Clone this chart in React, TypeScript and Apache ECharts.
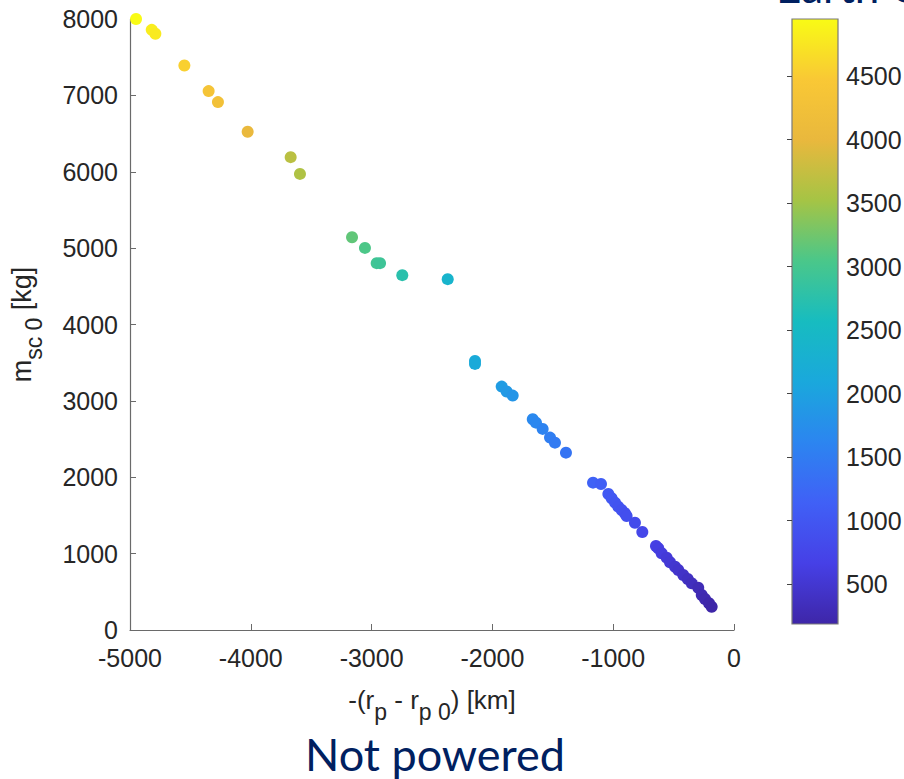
import React, { useEffect, useRef } from "react";
import * as echarts from "echarts";

// -(r_p - r_p0) [km]
const deltaRp = [
  -4950, -4820, -4790, -4550, -4349, -4272, -4026, -3670, -3593,
  -3162, -3055, -2958, -2930, -2746, -2370,
  -2144, -2144, -1923, -1882, -1832, -1666, -1639, -1584, -1523, -1482, -1391,
  -1167, -1101, -1040, -1013, -985, -958, -930, -903, -889, -820, -759,
  -646, -627, -599, -557, -530, -488, -461, -420, -383, -350, -296,
  -267, -240, -207, -185,
];
// m_sc0 [kg]
const massSc0 = [
  8000, 7858, 7806, 7391, 7056, 6912, 6523, 6191, 5972,
  5143, 5003, 4803, 4803, 4646, 4594,
  3523, 3484, 3187, 3122, 3069, 2760, 2715, 2633, 2519, 2453, 2322,
  1929, 1912, 1781, 1725, 1668, 1615, 1572, 1528, 1493, 1405, 1284,
  1100, 1070, 1005, 947, 887, 829, 786, 720, 668, 611, 554,
  458, 406, 350, 305,
];

const xTicks = [-5000, -4000, -3000, -2000, -1000, 0];
const yTicks = [0, 1000, 2000, 3000, 4000, 5000, 6000, 7000, 8000];
const colorbarTicks = [500, 1000, 1500, 2000, 2500, 3000, 3500, 4000, 4500];
const colorMin = 185;
const colorMax = 4950;

// parula-like palette, low -> high
const parula = [
  "#3E26A8", "#4640E6", "#4060F6", "#2C85F0", "#1AA8DC", "#17BCC0",
  "#4AC78A", "#A5C445", "#E9B83D", "#F9C835", "#F9FB15",
];

const titleText = "Not powered";
const colorbarTitle = "Earth C3";

export default function App() {
  const ref = useRef<HTMLDivElement>(null);
  useEffect(() => {
    document.body.style.margin = "0";
    const chart = echarts.init(ref.current!, null, { renderer: "svg" });
    const points = deltaRp.map((x, i) => [x, massSc0[i]]);
    const axisColor = "#262626";
    const font = "'Liberation Sans', Arial, Helvetica, sans-serif";
    const stops = parula.map((c, i) => ({ offset: i / (parula.length - 1), color: c }));
    const plain = (v: number) => String(v);

    chart.setOption({
      animation: false,
      backgroundColor: "#ffffff",
      textStyle: { fontFamily: font },
      grid: [
        { left: 130, top: 19, width: 604, height: 611, outerBoundsMode: "none" },
        { left: 792, top: 19, width: 46, height: 605, outerBoundsMode: "none" },
      ],
      xAxis: [
        {
          type: "value",
          gridIndex: 0,
          min: xTicks[0],
          max: xTicks[xTicks.length - 1],
          interval: 1000,
          splitLine: { show: false },
          axisLine: { onZero: false, lineStyle: { color: "#6a6a6a", width: 1.2 } },
          axisTick: { inside: true, length: 6, lineStyle: { color: "#6a6a6a" } },
          axisLabel: { color: axisColor, fontSize: 25, margin: 15, fontFamily: font, formatter: plain },
          name: "{n|-(r}{s|p}{n| - r}{s|p 0}{n|) [km]}",
          nameLocation: "middle",
          nameGap: 47,
          nameTextStyle: {
            color: axisColor,
            fontFamily: font,
            rich: {
              n: { fontSize: 26, lineHeight: 46, color: axisColor, fontFamily: font },
              s: { fontSize: 23, verticalAlign: "bottom", color: axisColor, fontFamily: font },
            },
          },
        },
        { type: "value", gridIndex: 1, min: 0, max: 1, show: false },
      ],
      yAxis: [
        {
          type: "value",
          gridIndex: 0,
          min: yTicks[0],
          max: yTicks[yTicks.length - 1],
          interval: 1000,
          splitLine: { show: false },
          axisLine: { onZero: false, lineStyle: { color: "#6a6a6a", width: 1.2 } },
          axisTick: { inside: true, length: 6, lineStyle: { color: "#6a6a6a" } },
          axisLabel: { color: axisColor, fontSize: 25, margin: 12, fontFamily: font, formatter: plain },
          name: "{n|m}{s|sc 0}{n| [kg]}",
          nameLocation: "middle",
          nameRotate: 90,
          nameGap: 85,
          nameTextStyle: {
            color: axisColor,
            fontFamily: font,
            rich: {
              n: { fontSize: 27, lineHeight: 46, color: axisColor, fontFamily: font },
              s: { fontSize: 23, verticalAlign: "bottom", color: axisColor, fontFamily: font },
            },
          },
        },
        {
          type: "value",
          gridIndex: 1,
          position: "right",
          min: colorMin,
          max: colorMax,
          z: 10,
          splitLine: { show: false },
          axisLine: { show: false },
          axisTick: {
            show: true,
            inside: true,
            length: 5,
            customValues: colorbarTicks,
            lineStyle: { color: "#444" },
          },
          axisLabel: {
            color: axisColor,
            fontSize: 25,
            margin: 8,
            fontFamily: font,
            customValues: colorbarTicks,
            formatter: plain,
          },
        },
      ],
      visualMap: {
        type: "continuous",
        show: false,
        seriesIndex: 0,
        dimension: 0,
        min: -colorMax,
        max: -colorMin,
        inRange: { color: [...parula].reverse() },
      },
      series: [
        {
          type: "scatter",
          xAxisIndex: 0,
          yAxisIndex: 0,
          symbolSize: 12,
          data: points,
          itemStyle: { opacity: 1 },
        },
        {
          type: "custom",
          xAxisIndex: 1,
          yAxisIndex: 1,
          silent: true,
          data: [[0, colorMin, colorMax]],
          encode: { x: 0, y: [1, 2] },
          renderItem: (params: any, api: any) => {
            const p0 = api.coord([0, api.value(1)]);
            const p1 = api.coord([1, api.value(2)]);
            return {
              type: "rect",
              shape: { x: p0[0], y: p1[1], width: p1[0] - p0[0], height: p0[1] - p1[1] },
              style: {
                fill: new echarts.graphic.LinearGradient(0, 1, 0, 0, stops),
                stroke: "#7a7a7a",
                lineWidth: 1.2,
              },
            };
          },
        },
      ],
      graphic: [
        {
          type: "text",
          left: 305,
          top: 731,
          style: {
            text: titleText,
            fill: "#002060",
            font: "45px Lato, 'Open Sans', sans-serif",
          },
        },
        {
          type: "text",
          x: 776,
          y: -36,
          style: {
            text: colorbarTitle,
            fill: "#002060",
            font: "44px Lato, 'Open Sans', sans-serif",
          },
        },
      ],
    });
    return () => chart.dispose();
  }, []);
  return (
    <div
      ref={ref}
      style={{ position: "fixed", left: 0, top: 0, width: 904, height: 779 }}
    />
  );
}
